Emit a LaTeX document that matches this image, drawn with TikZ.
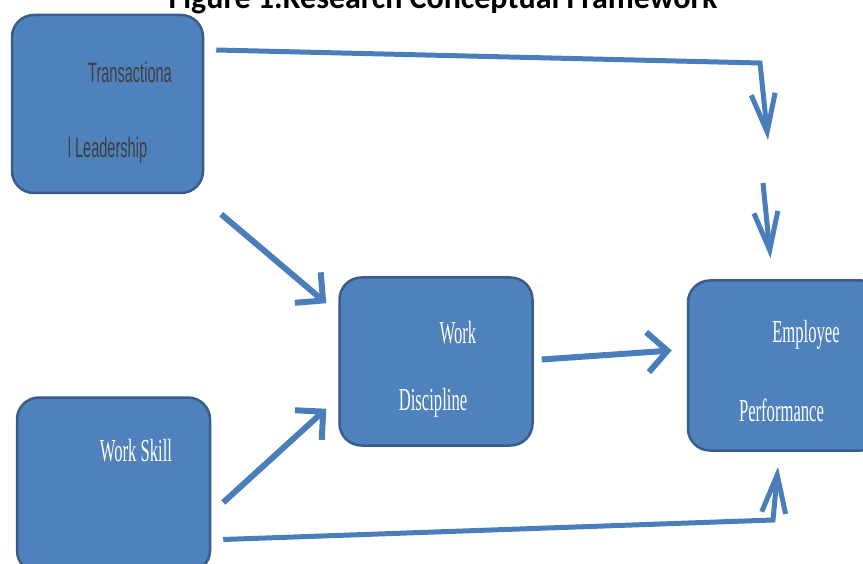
\documentclass[tikz,border=0pt]{standalone}
\usepackage{fontspec}
\setmainfont{Liberation Serif}
\newfontfamily\titlefont{Carlito}
\newfontfamily\boxfont[FakeStretch=0.52]{Liberation Serif}
\newfontfamily\tlfont[FakeStretch=0.52]{Liberation Sans}
\usetikzlibrary{arrows.meta,positioning}
\definecolor{boxblue}{HTML}{4F81BD}
\definecolor{boxline}{HTML}{385D8A}
\definecolor{arrblue}{HTML}{4A7EBB}
\definecolor{tltext}{HTML}{3F3F3F}

\begin{document}
\begin{tikzpicture}[x=1pt,y=1pt,
  box/.style={rectangle,draw=boxline,fill=boxblue,line width=2.5pt,rounded corners=22pt,inner sep=0pt},
  lbl/.style={font=\boxfont\fontsize{32}{36}\selectfont,text=white,inner sep=0pt},
  arr/.style={draw=arrblue,line width=6pt,-{Straight Barb[length=20pt,width=40pt]}},
  varr/.style={draw=arrblue,line width=5pt,-{Straight Barb[length=38pt,width=24pt]}}
]
\useasboundingbox (0,0) rectangle (863,-564);
\node[font=\titlefont\bfseries\fontsize{32}{36}\selectfont,anchor=base] (title) at (443,-9) {Figure 1.Research Conceptual Framework};

% boxes
\node[box, minimum width=191pt, minimum height=178pt] (tl) at (107.5,-104) {};
\node[box, minimum width=193pt, minimum height=168pt, below right=82pt and 134pt of tl] (wd) {};
\node[box, minimum width=195pt, minimum height=170pt, right=153pt of wd, yshift=-4pt] (ep) {};
\node[box, minimum width=193pt, minimum height=175pt, below=202pt of tl, xshift=6pt] (ws) {};

% texts
\node[lbl, font=\tlfont\fontsize{28}{32}\selectfont, text=tltext] (tla) at ([shift={(22.5pt,32pt)}]tl.center) {Transactiona};
\node[lbl, font=\tlfont\fontsize{28}{32}\selectfont, text=tltext] (tlb) at ([shift={(0pt,-46pt)}]tl.center) {l Leadership};
\node[lbl] (wda) at ([shift={(22pt,29pt)}]wd.center) {Work};
\node[lbl] (wdb) at ([shift={(-3pt,-41pt)}]wd.center) {Discipline};
\node[lbl] (epa) at ([shift={(20.5pt,31pt)}]ep.center) {Employee};
\node[lbl] (epb) at ([shift={(-4pt,-45pt)}]ep.center) {Performance};
\node[lbl] (wsa) at ([shift={(22.5pt,34.5pt)}]ws.center) {Work Skill};

% bends
\coordinate (tlbend) at (760,-63);
\coordinate (gaptop) at (763,-183);
\coordinate (wsbend) at (773,-520);

% arrows
\draw[varr] ([xshift=12pt,yshift=54pt]tl.east) -- (tlbend) -- ([xshift=-17.5pt,yshift=-77pt]tlbend -| ep.north);
\draw[varr] (gaptop) -- ([xshift=-15pt,yshift=21pt]ep.north);
\draw[arr] ([xshift=17pt,yshift=-20pt]tl.south east) -- ([xshift=-12pt,yshift=-27pt]wd.north west);
\draw[arr] ([xshift=12pt,yshift=-17.5pt]ws.east) -- ([xshift=-12pt,yshift=38pt]wd.south west);
\draw[arr] ([xshift=8pt,yshift=2pt]wd.east) -- ([xshift=-15pt,yshift=15pt]ep.west);
\draw[varr] ([xshift=12pt,yshift=-54.5pt]ws.east) -- (wsbend) -- ([xshift=-7.5pt,yshift=-15pt]ep.south);
\end{tikzpicture}
\end{document}
